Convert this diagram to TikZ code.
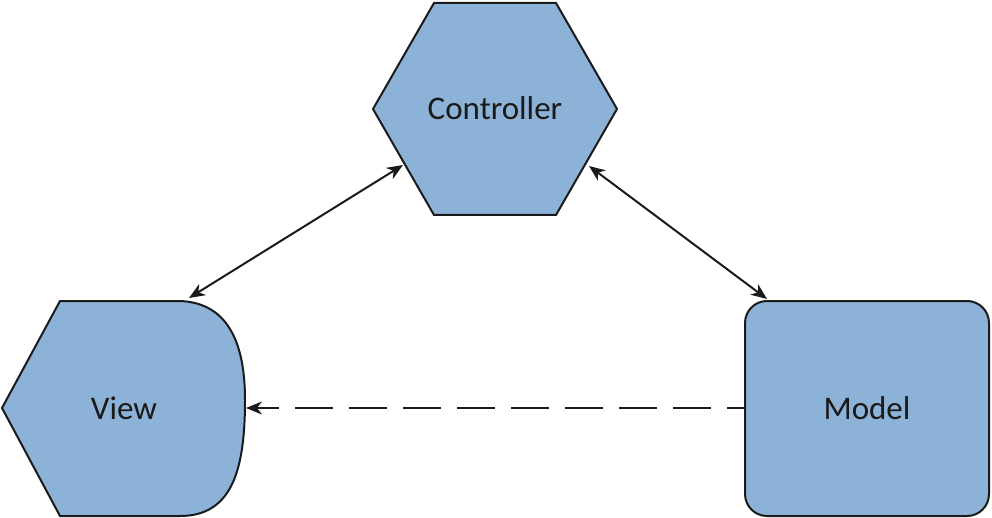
\documentclass[tikz,border=0pt]{standalone}
\usepackage{fontspec}
\setmainfont{Carlito}
\usetikzlibrary{arrows.meta,shapes.geometric}
\definecolor{boxfill}{RGB}{141,178,216}
\definecolor{ink}{RGB}{26,26,26}
\begin{document}
\begin{tikzpicture}[x=1pt,y=-1pt,
  shapeline/.style={draw=ink,line width=2pt,fill=boxfill},
  lbl/.style={font=\fontsize{33}{36}\selectfont,text=ink},
  link/.style={draw=ink,line width=2pt,{Stealth[length=16pt,width=13pt,inset=5pt]}-{Stealth[length=16pt,width=13pt,inset=5pt]}},
  dashlink/.style={draw=ink,line width=2pt,dash pattern=on 38pt off 16pt,dash phase=21pt,-{Stealth[length=16pt,width=13pt,inset=5pt]}}]
\useasboundingbox (0,0) rectangle (992,518);
% Controller hexagon
\path[shapeline] (434,3) -- (556,3) -- (617,109) -- (556,215) -- (434,215) -- (373,109) -- cycle;
\node[lbl] (ctrl) at (495,108) {Controller};
% View shape
\path[shapeline] (60,301) -- (180,301)
  .. controls (232,303) and (245,350) .. (245,400)
  .. controls (245,470) and (232,516) .. (180,516)
  -- (60,516) -- (2,408) -- cycle;
\node[lbl] (view) at (124,408) {View};
% Model rounded box
\path[shapeline,rounded corners=22pt] (745,301) rectangle (989,516);
\node[lbl] (model) at (867,408) {Model};
% connector ends
\coordinate (cv) at (403,165);
\coordinate (vc) at (189,298);
\coordinate (cm) at (589,166);
\coordinate (mc) at (767,299);
\coordinate (mv) at (744,408);
\coordinate (vm) at (246,408);
\draw[link] (vc) -- (cv);
\draw[link] (cm) -- (mc);
\draw[dashlink] (mv) -- (vm);
\end{tikzpicture}
\end{document}
